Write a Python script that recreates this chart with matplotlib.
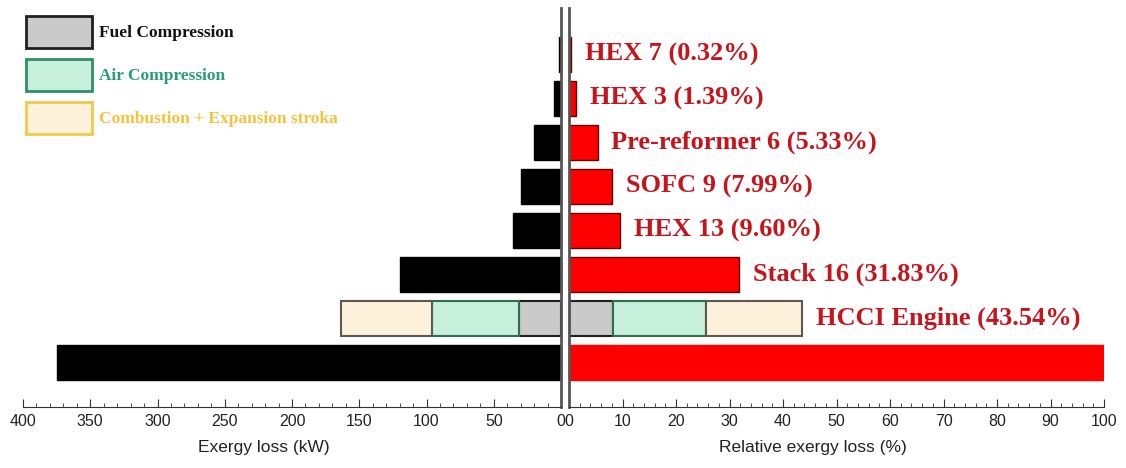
import matplotlib.pyplot as plt
from matplotlib.patches import Patch
from matplotlib.ticker import MultipleLocator

# components, bottom to top (first entry is the overall total)
names = ['Total', 'HCCI Engine', 'Stack 16', 'HEX 13', 'SOFC 9',
         'Pre-reformer 6', 'HEX 3', 'HEX 7']
loss_kw = [375.0, 163.3, 119.4, 36.0, 30.0, 20.0, 5.2, 1.2]
rel_loss = [100.0, 43.54, 31.83, 9.60, 7.99, 5.33, 1.39, 0.32]

# HCCI engine split: fuel compression, air compression, combustion + expansion
stages = ['Fuel Compression', 'Air Compression', 'Combustion + Expansion stroka']
hcci_kw = [31.1, 64.9, 67.3]
hcci_rel = [8.3, 17.3, 17.94]

stage_fill = ['#cacaca', '#c6f0dc', '#fff2dc']
stage_edge = ['#202020', '#2f6e4f', '#5a5a50']
legend_edge = ['#202020', '#2f8f66', '#f2c94c']
legend_txt = ['#111111', '#2a9d74', '#f5c33b']
red = '#ff0000'
label_red = '#c4141c'

plt.rcParams['font.family'] = ['Liberation Sans', 'DejaVu Sans']

fig = plt.figure(figsize=(11.26, 4.68), dpi=100)
bot, hgt = 1 - 407 / 468, (407 - 8) / 468
axl = fig.add_axes([23 / 1126, bot, (561 - 23) / 1126, hgt])
axr = fig.add_axes([569 / 1126, bot, (1104 - 569) / 1126, hgt])

h = 0.8
for i in range(len(names)):
    if names[i] == 'HCCI Engine':
        left_l = 0
        left_r = 0
        for k in range(3):
            axl.barh(i, hcci_kw[k], left=left_l, height=h, color=stage_fill[k],
                     edgecolor=stage_edge[k], linewidth=1.5)
            axr.barh(i, hcci_rel[k], left=left_r, height=h, color=stage_fill[k],
                     edgecolor=stage_edge[k], linewidth=1.5)
            left_l += hcci_kw[k]
            left_r += hcci_rel[k]
    else:
        axl.barh(i, loss_kw[i], height=h, color='black', edgecolor='black')
        axr.barh(i, rel_loss[i], height=h, color=red,
                 edgecolor='#600000' if i > 0 else red, linewidth=1)
    if i > 0:
        axr.annotate('%s (%.2f%%)' % (names[i], rel_loss[i]), (rel_loss[i], i),
                     xytext=(10, 0), textcoords='offset points', va='center',
                     ha='left', color=label_red, fontsize=19, fontweight='bold',
                     family='Liberation Serif')

axl.set_xlim(400, 0)
axr.set_xlim(0, 100)
for ax in (axl, axr):
    ax.set_ylim(-1.02, 8.05)
    ax.set_yticks([])
    ax.spines['top'].set_visible(False)
    ax.spines['bottom'].set_color('#333333')
    ax.tick_params(axis='x', which='major', direction='in', length=6,
                   labelsize=11.5, pad=5, color='#333333', labelcolor='#222222')
    ax.tick_params(axis='x', which='minor', direction='in', length=3,
                   color='#333333')
axl.spines['left'].set_visible(False)
axr.spines['right'].set_visible(False)
axl.spines['right'].set_color('#555555')
axl.spines['right'].set_linewidth(2)
axr.spines['left'].set_color('#555555')
axr.spines['left'].set_linewidth(2)

axl.xaxis.set_major_locator(MultipleLocator(50))
axl.xaxis.set_minor_locator(MultipleLocator(10))
axr.xaxis.set_major_locator(MultipleLocator(10))
axr.xaxis.set_minor_locator(MultipleLocator(2))
axl.set_xlabel('Exergy loss (kW)', fontsize=12.5, color='#222222')
axr.set_xlabel('Relative exergy loss (%)', fontsize=12.5, color='#222222')
axl.xaxis.set_label_coords(0.448, -0.083)
axr.xaxis.set_label_coords(0.456, -0.083)

handles = [Patch(facecolor=stage_fill[k], edgecolor=legend_edge[k], linewidth=2)
           for k in range(3)]
leg = fig.legend(handles, stages, loc='upper left',
                 bbox_to_anchor=(26 / 1126, 1 - 16 / 468), frameon=False,
                 handlelength=3.8, handleheight=2.45, labelspacing=0.63,
                 handletextpad=0.4, borderpad=0, borderaxespad=0,
                 prop={'family': 'Liberation Serif', 'weight': 'bold', 'size': 12.5})
for t, c in zip(leg.get_texts(), legend_txt):
    t.set_color(c)

fig.savefig('out.png', dpi=100)
